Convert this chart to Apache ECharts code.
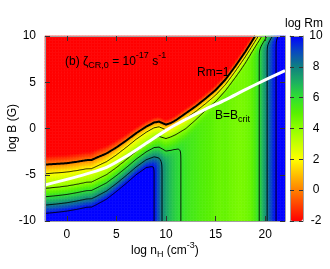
<!DOCTYPE html>
<html><head><meta charset="utf-8">
<script src="https://cdn.jsdelivr.net/npm/echarts@6/dist/echarts.min.js"></script>
<style>html,body{margin:0;padding:0;background:#fff}#c{width:330px;height:269px}</style>
</head><body><div id="c"></div>
<script>
// ---- data ----
// column samples of log n_H (cm^-3)
const colX  = [-2.2, -1, 0, 1, 2, 2.5, 3, 4, 5, 6, 7, 8, 8.8, 9.3, 10, 10.5, 11, 12, 13, 14, 15, 16, 17, 18, 19, 20, 21, 22];
// log B of the Rm = 1 contour (thick line)
const rm1B  = [-3.9, -3.82, -3.75, -3.6, -3.42, -3.4, -3.15, -2.7, -2.05, -1.3, -0.5, 0.2, 0.65, 0.74, 0.42, 0.6, 0.9, 1.65, 2.4, 3.25, 4.15, 5.3, 6.75, 8.3, 10.0, 11.7, 13.4, 15.1];
// log B gap between the log Rm = 0 and 2 contours
const gap02 = [0.98, 0.97, 0.95, 0.94, 0.93, 0.93, 0.93, 0.88, 0.8, 0.72, 0.65, 0.6, 0.56, 0.55, 0.55, 0.55, 0.55, 0.55, 0.55, 0.55, 0.55, 0.55, 0.55, 0.55, 0.55, 0.55, 0.55, 0.55];
// log B gap between the log Rm = 2 and 4 contours
const gap24 = [1.6, 1.57, 1.53, 1.5, 1.47, 1.46, 1.45, 1.42, 1.38, 1.35, 1.32, 1.28, 1.15, 1.05, 0.95, 0.95, 1.0, 1.1, 0.9, 0.72, 0.65, 0.62, 0.6, 0.6, 0.6, 0.6, 0.6, 0.6];
// log B gap per 2 decades below the log Rm = 4 contour
const gapHi = [0.9, 0.9, 0.9, 0.9, 0.9, 0.9, 0.9, 0.88, 0.86, 0.85, 0.84, 0.85, 1.0, 1.15, 1.35, 1.4, 1.4, 1.3, 1.1, 1.0, 0.9, 0.9, 0.9, 0.9, 0.9, 0.9, 0.9, 0.9];
// low-field ceiling of log Rm (vertical contours)
const ohmX  = [-2.2, 7.5, 8.2, 8.8, 9.2, 9.6, 10.0, 10.5, 11.0, 11.5, 12, 12.5, 13, 13.5, 14, 14.5, 15, 15.5, 16, 16.5, 17, 17.5, 18, 18.5, 19, 19.4, 19.8, 20.2, 20.6, 21.1, 21.5, 22];
const ohmRm = [16, 16, 13, 10, 9, 8, 7.3, 6.7, 6.3, 6.0, 5.7, 5.5, 5.4, 5.2, 5.1, 5.0, 4.8, 4.7, 4.8, 4.6, 4.5, 4.4, 4.5, 4.7, 5.3, 6.0, 7.0, 8.0, 9.0, 10.0, 10.8, 11.5];
// B = B_crit (white line)
const bcX = [-2.2, 0, 2, 4, 6, 8, 10, 12, 14, 16, 18, 20, 22];
const bcB = [-6.1, -5.5, -4.9, -4.2, -3.0, -1.6, -0.2, 1.0, 2.1, 3.1, 4.2, 5.25, 6.25];
const levels  = [0, 2, 4, 6, 8, 10];
const xTicks  = [0, 5, 10, 15, 20];
const yTicks  = [-10, -5, 0, 5, 10];
const cbTicks = [-2, 0, 2, 4, 6, 8, 10];

const X0 = -2.2, X1 = 22, Y0 = -10, Y1 = 10;
const palette = ['#ff0000','#ff4000','#ff8000','#ffbf00','#ffff00','#c8ff00','#90ff00','#58f000','#30e030','#1cb060','#108080','#0848c0','#0000ff'];
const FONT = '"Liberation Sans", Arial, sans-serif';

function lin(xs, ys, x) {
  if (x <= xs[0]) return ys[0];
  for (let k = 1; k < xs.length; k++) {
    if (x <= xs[k]) { const t = (x - xs[k-1]) / (xs[k] - xs[k-1]); return ys[k-1] + t * (ys[k] - ys[k-1]); }
  }
  return ys[ys.length - 1];
}
function logRm(x, y) {
  const l0 = lin(colX, rm1B, x), g2 = lin(colX, gap02, x), g4 = lin(colX, gap24, x), gh = lin(colX, gapHi, x);
  const P = [l0, l0 - g2, l0 - g2 - g4, l0 - g2 - g4 - gh, l0 - g2 - g4 - 2*gh, l0 - g2 - g4 - 3*gh];
  let A;
  if (y >= P[0]) A = -2 * (y - P[0]) / g2;
  else if (y <= P[5]) A = 10 + 2 * (P[5] - y) / gh;
  else {
    for (let k = 0; k < 5; k++) {
      if (y <= P[k] && y >= P[k+1]) { A = 2*k + 2 * (P[k] - y) / (P[k] - P[k+1]); break; }
    }
  }
  const O = lin(ohmX, ohmRm, x);
  return -Math.log10(Math.pow(10, -A) + Math.pow(10, -O));
}

// heatmap cells
const nx = 160, ny = 124;
const xCats = [], yCats = [], cells = [];
for (let i = 0; i < nx; i++) xCats.push(String(i));
for (let j = 0; j < ny; j++) yCats.push(String(j));
for (let i = 0; i < nx; i++) {
  const x = X0 + (i + 0.5) * (X1 - X0) / nx;
  for (let j = 0; j < ny; j++) {
    const y = Y0 + (j + 0.5) * (Y1 - Y0) / ny;
    let v = logRm(x, y);
    v = Math.max(-2, Math.min(10, v));
    cells.push([i, j, v]);
  }
}

// contours by marching squares
const NX = 242, NY = 185;
const G = new Float64Array((NX + 1) * (NY + 1));
const nxv = i => X0 + i * (X1 - X0) / NX, nyv = j => Y0 + j * (Y1 - Y0) / NY;
for (let j = 0; j <= NY; j++) for (let i = 0; i <= NX; i++) G[j*(NX+1)+i] = logRm(nxv(i), nyv(j));
const g = (i, j) => G[j*(NX+1)+i];
function contour(L) {
  const segs = [];
  const pt = {};
  function edge(e, i, j) {
    let key, p;
    if (e === 0) { key = 'h' + i + '_' + j; const a = g(i,j), b = g(i+1,j), t = (L-a)/(b-a); p = [nxv(i) + t*(X1-X0)/NX, nyv(j)]; }
    else if (e === 1) { key = 'v' + (i+1) + '_' + j; const a = g(i+1,j), b = g(i+1,j+1), t = (L-a)/(b-a); p = [nxv(i+1), nyv(j) + t*(Y1-Y0)/NY]; }
    else if (e === 2) { key = 'h' + i + '_' + (j+1); const a = g(i,j+1), b = g(i+1,j+1), t = (L-a)/(b-a); p = [nxv(i) + t*(X1-X0)/NX, nyv(j+1)]; }
    else { key = 'v' + i + '_' + j; const a = g(i,j), b = g(i,j+1), t = (L-a)/(b-a); p = [nxv(i), nyv(j) + t*(Y1-Y0)/NY]; }
    pt[key] = p; return key;
  }
  const table = {1:[[3,0]],2:[[0,1]],3:[[3,1]],4:[[1,2]],6:[[0,2]],7:[[3,2]],8:[[2,3]],9:[[0,2]],11:[[1,2]],12:[[1,3]],13:[[0,1]],14:[[0,3]]};
  for (let j = 0; j < NY; j++) for (let i = 0; i < NX; i++) {
    const a = g(i,j), b = g(i+1,j), c = g(i+1,j+1), d = g(i,j+1);
    const code = (a > L ? 1 : 0) | (b > L ? 2 : 0) | (c > L ? 4 : 0) | (d > L ? 8 : 0);
    if (code === 0 || code === 15) continue;
    let pairs = table[code];
    if (code === 5 || code === 10) {
      const ctr = (a + b + c + d) / 4 > L;
      if (code === 5) pairs = ctr ? [[0,1],[2,3]] : [[3,0],[1,2]];
      else pairs = ctr ? [[3,0],[1,2]] : [[0,1],[2,3]];
    }
    for (const [e1, e2] of pairs) segs.push([edge(e1, i, j), edge(e2, i, j)]);
  }
  // chain
  const adj = {};
  segs.forEach((s, k) => { (adj[s[0]] = adj[s[0]] || []).push(k); (adj[s[1]] = adj[s[1]] || []).push(k); });
  const used = new Uint8Array(segs.length);
  const lines = [];
  for (let k = 0; k < segs.length; k++) {
    if (used[k]) continue;
    used[k] = 1;
    const chain = [segs[k][0], segs[k][1]];
    for (let dir = 0; dir < 2; dir++) {
      while (true) {
        const end = dir === 0 ? chain[chain.length-1] : chain[0];
        const nb = (adj[end] || []).find(m => !used[m]);
        if (nb === undefined) break;
        used[nb] = 1;
        const s = segs[nb];
        const nxt = s[0] === end ? s[1] : s[0];
        if (dir === 0) chain.push(nxt); else chain.unshift(nxt);
      }
    }
    lines.push({ coords: chain.map(key => pt[key]) });
  }
  return lines;
}
const thinLines = [];
levels.slice(1).forEach(L => contour(L).forEach(l => thinLines.push(l)));
const thickLines = contour(levels[0]);

// text layout helper
const mctx = document.createElement('canvas').getContext('2d');
function piecesText(x0, yMid, parts) {
  const out = []; let x = x0;
  parts.forEach(p => {
    mctx.font = p.fs + 'px ' + FONT;
    out.push({ type: 'text', x: x, y: yMid + (p.dy || 0), z: 10,
      style: { text: p.t, font: p.fs + 'px ' + FONT, fill: '#000', textAlign: 'left', textVerticalAlign: 'middle' } });
    x += mctx.measureText(p.t).width;
  });
  return out;
}

const gridRect = { left: 45, top: 36, width: 240, height: 185, outerBoundsMode: 'none' };
const axisGrey = '#a0a0a0';
const tickStyle = { color: '#333', width: 1 };
const graphics = [].concat(
  piecesText(65, 62, [{t:'(b) ζ', fs:12}, {t:'CR,0', fs:9, dy:4}, {t:' = 10', fs:12}, {t:'-17', fs:9, dy:-6}, {t:' s', fs:12}, {t:'-1', fs:9, dy:-6}]),
  piecesText(197, 73, [{t:'Rm=1', fs:12}]),
  piecesText(215, 116, [{t:'B=B', fs:12}, {t:'crit', fs:9, dy:4}]),
  piecesText(131, 251, [{t:'log n', fs:12}, {t:'H', fs:9, dy:4}, {t:' (cm', fs:12}, {t:'-3', fs:9, dy:-5}, {t:')', fs:12}]),
  piecesText(285, 24, [{t:'log Rm', fs:12}]),
  [{ type: 'text', x: 12.5, y: 128, rotation: Math.PI / 2, z: 10,
     style: { text: 'log B (G)', font: '12px ' + FONT, fill: '#000', textAlign: 'center', textVerticalAlign: 'middle' } }]
);

const chart = echarts.init(document.getElementById('c'), null, { renderer: 'canvas' });
chart.setOption({
  animation: false,
  backgroundColor: '#fff',
  textStyle: { fontFamily: FONT },
  grid: [
    Object.assign({}, gridRect),
    Object.assign({}, gridRect),
    { left: 290, top: 36, width: 13, height: 185, outerBoundsMode: 'none' }
  ],
  xAxis: [
    { gridIndex: 0, type: 'category', data: xCats, show: false },
    { gridIndex: 1, type: 'value', min: X0, max: X1, position: 'bottom', z: 6,
      axisLine: { show: true, onZero: false, lineStyle: { color: axisGrey, width: 1 } },
      axisTick: { show: true, inside: true, length: 5, customValues: xTicks, lineStyle: tickStyle },
      axisLabel: { customValues: xTicks, fontSize: 12, color: '#000', margin: 8, fontFamily: FONT },
      splitLine: { show: false } },
    { gridIndex: 1, type: 'value', min: X0, max: X1, position: 'top', z: 6,
      axisLine: { show: true, onZero: false, lineStyle: { color: axisGrey, width: 1 } },
      axisTick: { show: true, inside: true, length: 5, customValues: xTicks, lineStyle: tickStyle },
      axisLabel: { show: false }, splitLine: { show: false } },
    { gridIndex: 2, type: 'value', min: 0, max: 1, position: 'bottom', z: 6,
      axisLine: { show: true, onZero: false, lineStyle: { color: axisGrey, width: 1 } },
      axisTick: { show: false }, axisLabel: { show: false }, splitLine: { show: false } },
    { gridIndex: 2, type: 'value', min: 0, max: 1, position: 'top', z: 6,
      axisLine: { show: true, onZero: false, lineStyle: { color: axisGrey, width: 1 } },
      axisTick: { show: false }, axisLabel: { show: false }, splitLine: { show: false } }
  ],
  yAxis: [
    { gridIndex: 0, type: 'category', data: yCats, show: false },
    { gridIndex: 1, type: 'value', min: Y0, max: Y1, interval: 5, position: 'left', z: 6,
      axisLine: { show: true, onZero: false, lineStyle: { color: axisGrey, width: 1 } },
      axisTick: { show: true, inside: true, length: 5, lineStyle: tickStyle },
      axisLabel: { fontSize: 12, color: '#000', margin: 9, fontFamily: FONT },
      splitLine: { show: false } },
    { gridIndex: 1, type: 'value', min: Y0, max: Y1, interval: 5, position: 'right', z: 6,
      axisLine: { show: true, onZero: false, lineStyle: { color: axisGrey, width: 1 } },
      axisTick: { show: true, inside: true, length: 5, lineStyle: tickStyle },
      axisLabel: { show: false }, splitLine: { show: false } },
    { gridIndex: 2, type: 'value', min: -2, max: 10, interval: 2, position: 'right', z: 6,
      axisLine: { show: true, onZero: false, lineStyle: { color: axisGrey, width: 1 } },
      axisTick: { show: true, inside: true, length: 4, lineStyle: tickStyle },
      axisLabel: { fontSize: 12, color: '#000', margin: 13, align: 'center', fontFamily: FONT },
      splitLine: { show: false } },
    { gridIndex: 2, type: 'value', min: -2, max: 10, interval: 2, position: 'left', z: 6,
      axisLine: { show: true, onZero: false, lineStyle: { color: axisGrey, width: 1 } },
      axisTick: { show: true, inside: true, length: 4, lineStyle: tickStyle },
      axisLabel: { show: false }, splitLine: { show: false } }
  ],
  visualMap: {
    type: 'continuous', seriesIndex: 0, min: -2, max: 10, show: true, calculable: false,
    orient: 'vertical', left: 290, top: 36, itemWidth: 13, itemHeight: 185, padding: 0,
    hoverLink: false, inRange: { color: palette }
  },
  graphic: graphics,
  series: [
    { type: 'heatmap', xAxisIndex: 0, yAxisIndex: 0, data: cells, progressive: 0, z: 2,
      itemStyle: { borderWidth: 0 }, emphasis: { disabled: true } },
    { type: 'lines', coordinateSystem: 'cartesian2d', xAxisIndex: 1, yAxisIndex: 1, polyline: true,
      data: thinLines, z: 3, silent: true, lineStyle: { color: '#000', width: 0.9, opacity: 1 } },
    { type: 'lines', coordinateSystem: 'cartesian2d', xAxisIndex: 1, yAxisIndex: 1, polyline: true,
      data: thickLines, z: 3, silent: true, lineStyle: { color: '#000', width: 2, opacity: 1 } },
    { type: 'line', xAxisIndex: 1, yAxisIndex: 1, data: bcX.map((x, k) => [x, bcB[k]]),
      smooth: 0.3, showSymbol: false, z: 4, silent: true, lineStyle: { color: '#fff', width: 3 } }
  ]
});
</script></body></html>
